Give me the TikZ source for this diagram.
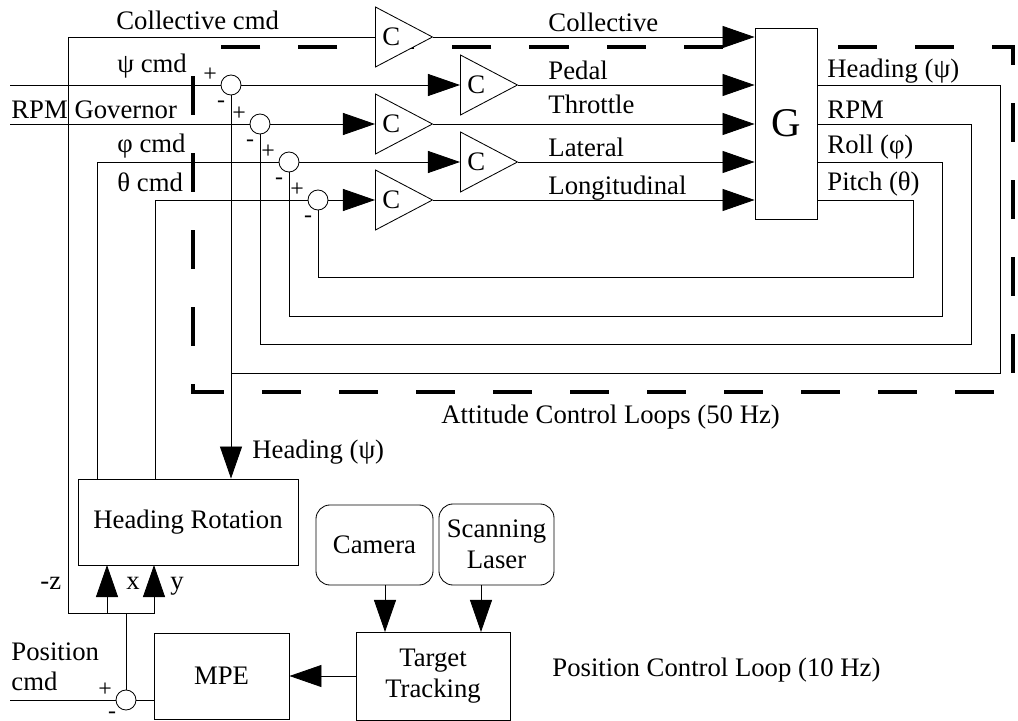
\documentclass[tikz,border=0pt]{standalone}
\usepackage{fontspec}
\setmainfont{Liberation Serif}
\usetikzlibrary{arrows.meta, positioning, shapes.geometric}

\begin{document}
\begin{tikzpicture}[
    x=0.025cm, y=-0.025cm,
    line width=0.6pt,
    font=\fontsize{19}{22}\selectfont,
    block/.style={rectangle, draw, fill=white, align=center, inner sep=0pt},
    sensor/.style={block, rounded corners=0.35cm},
    gain/.style={isosceles triangle, isosceles triangle apex angle=55.5, draw, fill=white, minimum width=1.5cm, minimum height=1.425cm, inner sep=0pt, anchor=west},
    sumpt/.style={circle, draw, fill=white, minimum size=0.5cm, inner sep=0pt},
    sign/.style={font=\fontsize{17}{17}\selectfont, inner sep=0pt},
    lbl/.style={anchor=base west, inner sep=0pt},
    arrow/.style={-{Triangle[length=0.8cm, width=0.55cm]}},
    loopbox/.style={dash pattern=on 0.975cm off 0.95cm, dash phase=1.2cm, line width=2.8pt},
]
    \useasboundingbox (0,0) rectangle (1018,721);

    % attitude loop boundary
    \draw[loopbox] (193,47) rectangle (1013,392);

    % controllers and plant
    \node[gain] (cColl) at (375,37) {C};
    \node[gain] (cPsi) at (460,85) {C};
    \node[gain] (cRPM) at (375,124) {C};
    \node[gain] (cPhi) at (460,162) {C};
    \node[gain] (cTheta) at (375,200) {C};
    \node[block, minimum width=1.55cm, minimum height=4.775cm, font=\fontsize{29}{29}\selectfont] (G) at (786,123.5) {G};

    % summing junctions
    \node[sumpt] (sPsi) at (231,85) {};
    \node[sumpt] (sRPM) at (260,124) {};
    \node[sumpt] (sPhi) at (289,162) {};
    \node[sumpt] (sTheta) at (318,200) {};
    \node[sumpt] (sPos) at (126,700) {};
    \node[sign] (pPsi) at ([shift={(-21,-10)}]sPsi) {+};
    \node[sign] (mPsi) at ([shift={(-10,19)}]sPsi) {-};
    \node[sign] (pRPM) at ([shift={(-21,-10)}]sRPM) {+};
    \node[sign] (mRPM) at ([shift={(-10,19)}]sRPM) {-};
    \node[sign] (pPhi) at ([shift={(-21,-10)}]sPhi) {+};
    \node[sign] (mPhi) at ([shift={(-10,19)}]sPhi) {-};
    \node[sign] (pTheta) at ([shift={(-21,-10)}]sTheta) {+};
    \node[sign] (mTheta) at ([shift={(-10,19)}]sTheta) {-};
    \node[sign] (pPos) at ([shift={(-21,-10)}]sPos) {+};
    \node[sign] (mPos) at ([shift={(-14,15)}]sPos) {-};

    % position loop blocks
    \node[block, minimum width=5.5cm, minimum height=2.15cm] (hr) at (188,522) {Heading Rotation};
    \node[sensor, minimum width=2.925cm, minimum height=2cm] (cam) at (374.5,545) {Camera};
    \node[sensor, minimum width=2.875cm, minimum height=2.025cm] (laser) at (496.5,544.5) {Scanning\\Laser};
    \node[block, minimum width=3.85cm, minimum height=2.2cm] (tt) at (433,676) {Target\\Tracking};
    \node[block, minimum width=3.375cm, minimum height=2.15cm] (mpe) at (221.5,676) {MPE};

    % free ends and corners
    \coordinate (psiIn) at (10,85);
    \coordinate (rpmIn) at (10,124);
    \coordinate (posIn) at (10,700);
    \coordinate (zLeft) at (68,613);
    \coordinate (fork) at (126,613);
    \coordinate (xIn) at (107,565);
    \coordinate (yIn) at (154,565);
    \coordinate (phiOut) at (97,479);
    \coordinate (thetaOut) at (155,479);
    \coordinate (fbPsi) at (1000,373);
    \coordinate (fbRPM) at (971,344);
    \coordinate (fbPhi) at (942,316);
    \coordinate (fbTheta) at (913,277);
    \coordinate (camIn) at (385,632);
    \coordinate (laserIn) at (481,632);

    % commands into the attitude loops
    \draw (psiIn) -- (sPsi);
    \draw[arrow] (sPsi) -- (cPsi.west);
    \draw (rpmIn) -- (sRPM);
    \draw[arrow] (sRPM) -- (cRPM.west);
    \draw (phiOut) |- (sPhi);
    \draw[arrow] (sPhi) -- (cPhi.west);
    \draw (thetaOut) |- (sTheta);
    \draw[arrow] (sTheta) -- (cTheta.west);
    \draw (fork) -- (zLeft) |- (cColl.west);

    % controller outputs
    \draw[arrow] (cColl.east) -- (cColl.east -| G.west);
    \draw[arrow] (cPsi.east) -- (cPsi.east -| G.west);
    \draw[arrow] (cRPM.east) -- (cRPM.east -| G.west);
    \draw[arrow] (cPhi.east) -- (cPhi.east -| G.west);
    \draw[arrow] (cTheta.east) -- (cTheta.east -| G.west);

    % feedback
    \draw (G.east |- sPsi) -| (fbPsi) -- (fbPsi -| sPsi);
    \draw[arrow] (sPsi) -- (sPsi |- hr.north);
    \draw (G.east |- sRPM) -| (fbRPM) -| (sRPM);
    \draw (G.east |- sPhi) -| (fbPhi) -| (sPhi);
    \draw (G.east |- sTheta) -| (fbTheta) -| (sTheta);

    % position loop
    \draw (posIn) -- (sPos);
    \draw (mpe.west |- sPos) -- (sPos);
    \draw (sPos) -- (fork);
    \draw[arrow] (fork) -| (xIn);
    \draw[arrow] (fork) -| (yIn);
    \draw[arrow] (cam.south -| camIn) -- (camIn);
    \draw[arrow] (laser.south -| laserIn) -- (laserIn);
    \draw[arrow] (tt.west) -- (mpe.east);

    % labels
    \node[lbl] (lCollCmd) at (116,30) {Collective cmd};
    \node[lbl] (lPsiCmd) at (117,73) {ψ cmd};
    \node[lbl] (lRPMGov) at (11,119) {RPM Governor};
    \node[lbl] (lPhiCmd) at (117,153) {φ cmd};
    \node[lbl] (lThetaCmd) at (117,192) {θ cmd};
    \node[lbl] (lColl) at (548,32) {Collective};
    \node[lbl] (lPedal) at (548,80) {Pedal};
    \node[lbl] (lThrottle) at (548,114) {Throttle};
    \node[lbl] (lLateral) at (548,157) {Lateral};
    \node[lbl] (lLong) at (548,195) {Longitudinal};
    \node[lbl] (lHeadOut) at (827,78) {Heading (ψ)};
    \node[lbl] (lRPMOut) at (827,119) {RPM};
    \node[lbl] (lRollOut) at (827,154) {Roll (φ)};
    \node[lbl] (lPitchOut) at (827,191) {Pitch (θ)};
    \node[lbl] (lAtt) at (441,423) {Attitude Control Loops (50 Hz)};
    \node[lbl] (lHeadIn) at (252,458) {Heading (ψ)};
    \node[lbl] (lz) at (40,589) {-z};
    \node[lbl] (lx) at (126,589) {x};
    \node[lbl] (ly) at (170,589) {y};
    \node[lbl] (lPosA) at (11,660) {Position};
    \node[lbl] (lPosB) at (11,690) {cmd};
    \node[lbl] (lPCL) at (552,676) {Position Control Loop (10 Hz)};
\end{tikzpicture}
\end{document}
